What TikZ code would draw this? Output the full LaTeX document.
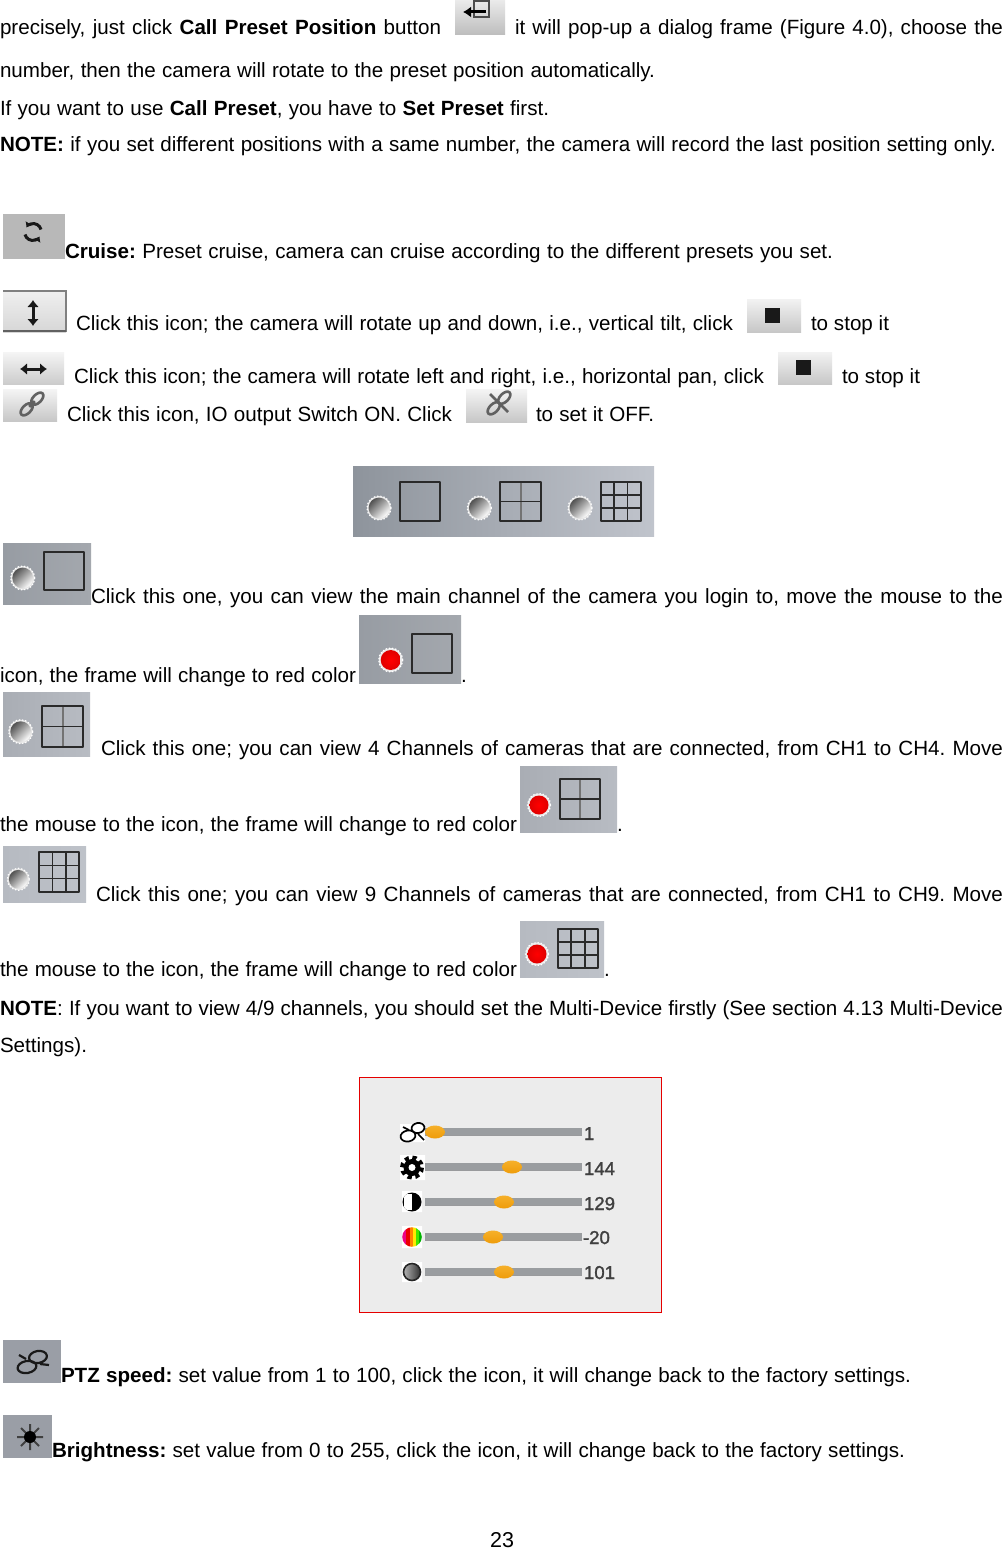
\documentclass[tikz,border=0pt]{standalone}
\usepackage{fontspec}
\setmainfont{Liberation Sans}
\usetikzlibrary{calc,arrows.meta}
\definecolor{barg}{HTML}{9A9DA0}
\definecolor{fr}{HTML}{2A2A2A}
\definecolor{stripL}{HTML}{8E949C}
\definecolor{stripR}{HTML}{C0C4CC}
\definecolor{oneL}{HTML}{979CA3}
\definecolor{oneR}{HTML}{A4A8AE}
\definecolor{fourL}{HTML}{A9ADB4}
\definecolor{fourR}{HTML}{B8BCC3}
\definecolor{nineL}{HTML}{B6BAC1}
\definecolor{nineR}{HTML}{BEC2C9}
\definecolor{iconG}{HTML}{9A9EA6}
\definecolor{knobT}{HTML}{F6B02A}
\definecolor{knobB}{HTML}{EE9C0A}
\newcommand\tline[5]{\node[txt] (#1) at (#2,#3) {\frenchspacing\makebox[#4pt][s]{#5}};}
\newcommand\radio[3]{%
 \fill[black!10] (#1,#2) circle (#3);
 \draw[white,line width=1.2pt,dotted] (#1,#2) circle (#3);
 \pgfmathsetmacro\rr{#3-1.6}
 \shade[top color=black!68,bottom color=white,shading angle=45] (#1,#2) circle (\rr pt);}
\newcommand\redradio[3]{%
 \fill[black!8] (#1,#2) circle (#3+1);
 \draw[white,line width=1.2pt,dotted] (#1,#2) circle (#3+1);
 \pgfmathsetmacro\rr{#3-1.0}
 \shade[inner color=red,outer color=red!88!black] (#1,#2) circle (\rr pt);}
\newcommand\fone[4]{\draw[frm] (#1,#2) rectangle (#3,#4);}
\newcommand\ftwo[4]{%
 \pgfmathsetmacro\mx{(#1+#3)/2}\pgfmathsetmacro\my{(#2+#4)/2}
 \draw[black!55,line width=2pt] (\mx,#2) -- (\mx,#4);
 \draw[frm] (#1,#2) rectangle (#3,#4) (#1,\my) -- (#3,\my);}
\newcommand\fthree[4]{%
 \pgfmathsetmacro\xa{#1+(#3-#1)/3}\pgfmathsetmacro\xb{#1+2*(#3-#1)/3}
 \pgfmathsetmacro\ya{#2+(#4-#2)/3}\pgfmathsetmacro\yb{#2+2*(#4-#2)/3}
 \draw[frm] (#1,#2) rectangle (#3,#4) (#1,\ya) -- (#3,\ya) (#1,\yb) -- (#3,\yb) (\xa,#2) -- (\xa,#4) (\xb,#2) -- (\xb,#4);}
\newcommand\slider[2]{%
 \fill[barg] (425,#1-4) rectangle (582,#1+4);
 \fill[black!40,opacity=.5] (425,#1+2.5) rectangle (582,#1+4);
 \shade[top color=knobT,bottom color=knobB] (#2,#1) ellipse (10 and 6.5);}
\begin{document}
\begin{tikzpicture}[x=1pt,y=-1pt,
 txt/.style={anchor=base west,inner sep=0pt,outer sep=0pt,font=\fontsize{20.6}{24}\selectfont,text=black},
 val/.style={anchor=base west,inner sep=0pt,outer sep=0pt,font=\fontsize{18.6}{22}\selectfont\addfontfeature{FakeBold=1.5},text=black!75},
 frm/.style={draw=fr,line width=1.7pt,line join=round},
 thick arrow/.style={line width=3pt,black!90}]
\useasboundingbox (0,0) rectangle (1003,1549);
\fill[white] (0,0) rectangle (1003,1549);

% ---- buttons (top part)
\shade[top color=black!8,bottom color=black!26] (455,0) rectangle (505,35);
\draw[black!70,line width=1.2pt] (474,1) rectangle (489,17);
\draw[black,line width=3pt,-{Latex[length=8pt,width=11pt]}] (486,12) -- (463,12);

\fill[black!28] (3,214) rectangle (65,259);
\draw[black!90,line width=3pt,-{Latex[length=5pt,width=8pt]}] (41,229.5) arc (-15:-150:8 and 8);
\draw[black!90,line width=3pt,-{Latex[length=5pt,width=8pt]}] (25,234.5) arc (165:30:8 and 8);

\shade[top color=black!6,bottom color=black!16] (3,291) rectangle (66,332);
\draw[black!50,line width=2pt] (3,291) -- (66,291) -- (66,332);
\draw[black!62,line width=2.6pt] (3,331) -- (66,331);
\draw[thick arrow,{Latex[length=7pt,width=12pt]}-{Latex[length=7pt,width=12pt]}] (33,300) -- (33,326);

\shade[top color=black!4,bottom color=black!20] (3,352) rectangle (64,384);
\draw[thick arrow,{Latex[length=7pt,width=12pt]}-{Latex[length=7pt,width=12pt]}] (20,369) -- (47,369);

\shade[top color=black!4,bottom color=black!22] (3,389) rectangle (57,421);
\draw[black!62,line width=2.6pt,rotate around={45:(32,404)}] (24.5,404) ellipse (7.5 and 4.2) (39.5,404) ellipse (7.5 and 4.2) (28,404) -- (36,404);

\shade[top color=black!4,bottom color=black!22] (466,389) rectangle (527,422);
\draw[black!62,line width=2.6pt,rotate around={45:(499,403)}] (491.5,403) ellipse (7.5 and 4.2) (506.5,403) ellipse (7.5 and 4.2);
\draw[black!62,line width=2.6pt] (490,394) -- (508,412);

\shade[top color=black!5,bottom color=black!22] (747,299) rectangle (801,332);
\fill[black!90] (765,308) rectangle (780,323);
\shade[top color=black!5,bottom color=black!22] (778,352) rectangle (832,384);
\fill[black!90] (796,360) rectangle (811,375);

% ---- three-way view strip
\shade[left color=stripL,right color=stripR] (353,466) rectangle (654,536);
\radio{379}{508}{12}\fone{400.3}{482}{440}{520.7}
\radio{479.3}{508}{12}\ftwo{500.3}{482}{540.7}{520.7}
\radio{580}{508}{12}\fthree{601}{482}{640.7}{520.7}

% ---- single view icons
\shade[left color=oneL,right color=oneR] (3,543) rectangle (91,604);
\radio{22.7}{578}{12}\fone{44}{551.7}{84}{590}
\shade[left color=oneL,right color=oneR] (359,615) rectangle (461,683);
\redradio{390.7}{660}{11}\fone{411.7}{634}{452.3}{672.7}

\shade[left color=fourL,right color=fourR] (3,692) rectangle (90,756);
\radio{20.7}{731.7}{12}\ftwo{42}{706}{83}{746.7}
\shade[left color=fourL,right color=fourR] (520,766) rectangle (617,832);
\redradio{539}{805}{10.5}\ftwo{560}{779}{600}{819}

\shade[left color=nineL,right color=nineR] (3,846) rectangle (86,902);
\radio{18.3}{879.3}{11}\fthree{39.3}{852.3}{79}{891.7}
\shade[left color=nineL,right color=nineR] (520,921) rectangle (604,977);
\redradio{537}{954}{10.5}\fthree{558}{929}{598}{968}

% ---- slider panel
\fill[black!7.5] (359,1077) rectangle (662,1313);
\draw[red!90!black,line width=1pt] (359.5,1077.5) rectangle (661.5,1312.5);
\draw[red!90!black,line width=1.4pt] (359.5,1312.5) -- (661.5,1312.5);
\fill[white] (400,1124) rectangle (425,1142) (400,1155) rectangle (425,1180) (402,1191) rectangle (422,1212) (402,1226) rectangle (422,1248) (402,1262) rectangle (422,1282);
\slider{1132}{435}\slider{1167}{512}\slider{1202}{504}\slider{1237}{493}\slider{1272}{504}
\draw[black,line width=1.7pt,rotate around={10:(408,1136)}] (408,1136) ellipse (7.5 and 5.5);
\draw[black,line width=1.7pt,rotate around={10:(418,1128)}] (418,1128) ellipse (6.5 and 5);
\draw[black,line width=1.7pt] (403,1127) -- (409,1130) (418,1134) -- (424,1140);
\draw[black,line width=5pt,dash pattern=on 4pt off 3.46pt] (412,1167.5) circle (9.5);
\fill[black] (412,1167.5) circle (8.5);
\fill[white] (412,1167.5) circle (3.5);
\begin{scope}
 \clip (412,1202) circle (9.5);
 \fill[black] (402,1191) rectangle (422,1213);
 \fill[white] (404,1194) rectangle (412,1210);
\end{scope}
\begin{scope}
 \clip (412,1237) circle (9.8);
 \fill[magenta!90!red] (402,1226) rectangle (406,1248);
 \fill[red!92!black] (406,1226) rectangle (409.5,1248);
 \fill[orange] (409.5,1226) rectangle (412.5,1248);
 \fill[yellow!90!orange] (412.5,1226) rectangle (415.5,1248);
 \fill[green!70!yellow!90!black] (415.5,1226) rectangle (418.5,1248);
 \fill[green!70!black] (418.5,1226) rectangle (422,1248);
\end{scope}
\draw[black!85,line width=1.6pt,left color=black!30,right color=black!80] (412,1272) circle (8.5);
\node[val] (v1) at (584,1140) {1};
\node[val] (v2) at (584,1175) {144};
\node[val] (v3) at (584,1210) {129};
\node[val] (v4) at (583,1244) {-20};
\node[val] (v5) at (584,1279) {101};

% ---- bottom icons
\fill[iconG] (3,1340) rectangle (61,1383);
\draw[black!90,line width=2.2pt,rotate around={10:(27,1367)}] (27,1367) ellipse (9.5 and 6);
\draw[black!90,line width=2.2pt,rotate around={10:(38,1357)}] (38,1357) ellipse (9 and 6);
\draw[black!90,line width=2.2pt] (19,1355) -- (26,1359) (40,1364) -- (49,1365);
\fill[iconG] (3,1415) rectangle (52,1458);
\draw[black!75,line width=2pt] (17,1437) -- (43,1437) (30,1424) -- (30,1450) (21,1428) -- (39,1446) (21,1446) -- (39,1428);
\fill[black] (30,1437) circle (6);

% ---- text
\tline{a1}{0}{34.5}{441}{precisely, just click \textbf{Call Preset Position} button}
\tline{a2}{515}{34.5}{488}{it will pop-up a dialog frame (Figure 4.0), choose the}
\tline{a3}{0}{77.5}{655}{number, then the camera will rotate to the preset position automatically.}
\tline{a4}{0}{115.5}{549}{If you want to use \textbf{Call Preset}, you have to \textbf{Set Preset} first.}
\tline{a5}{0}{152}{996}{\textbf{NOTE:} if you set different positions with a same number, the camera will record the last position setting only.}
\tline{b1}{65}{258}{768}{\textbf{Cruise:} Preset cruise, camera can cruise according to the different presets you set.}
\tline{b2}{76}{330}{657}{Click this icon; the camera will rotate up and down, i.e., vertical tilt, click}
\tline{b3}{811}{330}{78}{to stop it}
\tline{b4}{74}{383}{690}{Click this icon; the camera will rotate left and right, i.e., horizontal pan, click}
\tline{b5}{842}{383}{78}{to stop it}
\tline{b6}{67}{421}{385}{Click this icon, IO output Switch ON. Click}
\tline{b7}{536}{421}{118}{to set it OFF.}
\tline{c1}{91}{603}{912}{Click this one, you can view the main channel of the camera you login to, move the mouse to the}
\tline{c2}{0}{682}{356}{icon, the frame will change to red color}
\node[txt] (c3) at (461,682) {.};
\tline{c4}{101}{755}{902}{Click this one; you can view 4 Channels of cameras that are connected, from CH1 to CH4. Move}
\tline{c5}{0}{831}{517}{the mouse to the icon, the frame will change to red color}
\node[txt] (c6) at (617,831) {.};
\tline{c7}{96}{901}{907}{Click this one; you can view 9 Channels of cameras that are connected, from CH1 to CH9. Move}
\tline{c8}{0}{976}{517}{the mouse to the icon, the frame will change to red color}
\node[txt] (c9) at (604,976) {.};
\tline{c10}{0}{1015}{1003}{\textbf{NOTE}: If you want to view 4/9 channels, you should set the Multi-Device firstly (See section 4.13 Multi-Device}
\tline{c11}{0}{1052}{87}{Settings).}
\tline{d1}{61}{1382}{850}{\textbf{PTZ speed:} set value from 1 to 100, click the icon, it will change back to the factory settings.}
\tline{d2}{52}{1457}{853}{\textbf{Brightness:} set value from 0 to 255, click the icon, it will change back to the factory settings.}
\node[txt,anchor=base] (pg) at (502,1547.5) {\fontsize{21.5}{24}\selectfont 23};
\end{tikzpicture}
\end{document}
